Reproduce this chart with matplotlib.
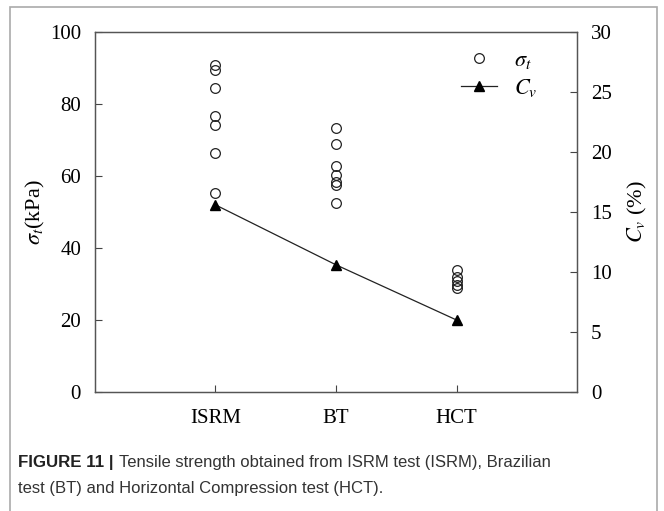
import matplotlib.pyplot as plt
from matplotlib.patches import Rectangle

plt.rcParams['font.family'] = 'Liberation Serif'
plt.rcParams['mathtext.fontset'] = 'stix'

tests = ['ISRM', 'BT', 'HCT']
isrm_sigma = [91.0, 89.6, 84.6, 76.6, 74.2, 66.5, 55.4]
bt_sigma = [73.4, 68.8, 62.8, 60.2, 58.3, 57.6, 52.6]
hct_sigma = [34.0, 32.0, 30.8, 29.8, 29.0]
cv = [15.6, 10.6, 6.0]

fig = plt.figure(figsize=(6.64, 5.11), dpi=100)
ax = fig.add_axes([0.143, 0.233, 0.726, 0.704])
ax2 = ax.twinx()

# scatter of strength values, one column per test
first = True
for i, vals in enumerate([isrm_sigma, bt_sigma, hct_sigma]):
    ax.plot([i + 1] * len(vals), vals, linestyle='none', marker='o', ms=7,
            mfc='none', mec='#222222', mew=0.9,
            label=r'$\sigma_t$' if first else None)
    first = False

ax2.plot([1, 2, 3], cv, color='#222222', lw=0.9, marker='^', ms=7.5,
         mfc='black', mec='black', label=r'$C_v$')

ax.set_xlim(0, 4)
ax.set_ylim(0, 100)
ax2.set_ylim(0, 30)
ax.set_xticks([1, 2, 3])
ax.set_xticklabels(tests)
ax.set_yticks(range(0, 101, 20))
ax2.set_yticks(range(0, 31, 5))

for a in (ax, ax2):
    a.tick_params(direction='in', length=5, width=0.8, color='#444444',
                  labelsize=15, pad=10)
    for s in a.spines.values():
        s.set_color('#555555')
        s.set_linewidth(0.9)
ax.tick_params(axis='x', pad=12)

ax.set_ylabel(r'$\sigma_t$(kPa)', fontsize=16, labelpad=2)
ax2.set_ylabel(r'$C_v$ (%)', fontsize=16, labelpad=10, rotation=90)

h1, l1 = ax.get_legend_handles_labels()
h2, l2 = ax2.get_legend_handles_labels()
ax2.legend(h1 + h2, l1 + l2, loc='upper right', bbox_to_anchor=(0.96, 1.005),
           frameon=False, fontsize=16, handlelength=1.6, handletextpad=0.8,
           labelspacing=0.25)

fig.patches.append(Rectangle((10 / 664, -0.1), 647 / 664, 1.1 - 7 / 511,
                             transform=fig.transFigure, fill=False,
                             edgecolor='#aaaaaa', lw=1.2))

cap_font = ['Liberation Sans Narrow', 'Liberation Sans']
fig.text(18 / 664, 1 - 462 / 511, 'FIGURE 11 |', fontsize=12.2,
         fontweight='bold', family=cap_font, va='center', color='#222222')
fig.text(119 / 664, 1 - 462 / 511,
         'Tensile strength obtained from ISRM test (ISRM), Brazilian',
         fontsize=12.0, family=cap_font, va='center', color='#333333')
fig.text(18 / 664, 1 - 488 / 511,
         'test (BT) and Horizontal Compression test (HCT).',
         fontsize=12.0, family=cap_font, va='center', color='#333333')

fig.savefig('out.png', dpi=100)
